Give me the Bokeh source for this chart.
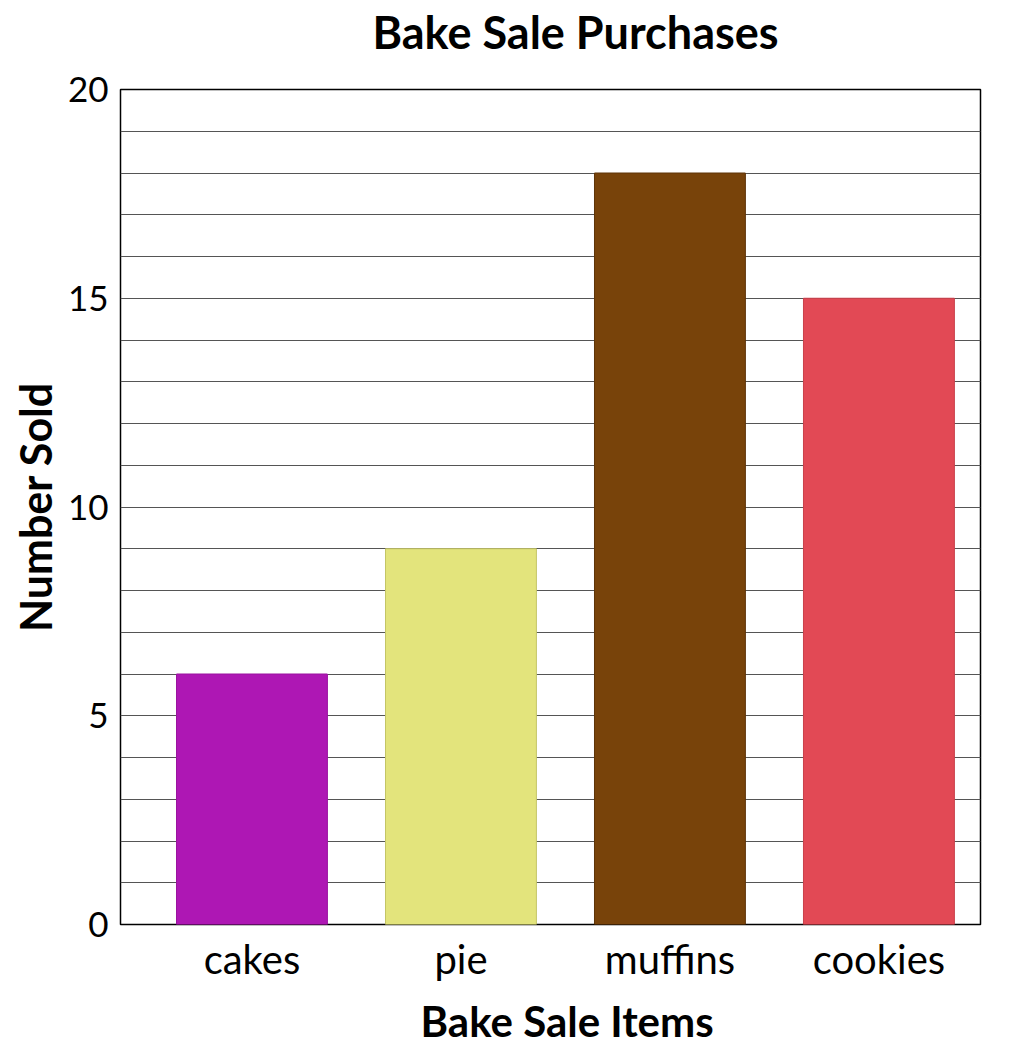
from bokeh.plotting import figure
from bokeh.models import Range1d, FixedTicker, SingleIntervalTicker, Grid, Title
from bokeh.embed import file_html
from bokeh.resources import INLINE

items = ["cakes", "pie", "muffins", "cookies"]
sold = [6, 9, 18, 15]
colors = ["#AE17B4", "#E3E47C", "#78430A", "#E24955"]
edges = ["#9A139F", "#C4C566", "#5E3408", "#C93F4A"]
y_ticks = [0, 5, 10, 15, 20]

positions = list(range(len(items)))

FONT = "Lato"

p = figure(x_range=Range1d(-0.629, 3.486), y_range=Range1d(0, 20),
           frame_width=860, frame_height=835, width=1015, height=1053,
           min_border_left=120, min_border_top=89, min_border_bottom=129, min_border_right=35,
           output_backend="svg", toolbar_location=None)

p.vbar(x=positions, top=sold, width=0.722, fill_color=colors, line_color=edges, line_width=1)

p.xgrid.visible = False
p.ygrid.visible = False
g = Grid(dimension=1, ticker=SingleIntervalTicker(interval=1), grid_line_color="#555555", grid_line_width=1)
p.add_layout(g)

p.outline_line_color = "black"
p.outline_line_width = 1.5
p.outline_line_alpha = 1

for ax in (p.xaxis[0], p.yaxis[0]):
    ax.axis_line_color = None
    ax.major_tick_line_color = None
    ax.minor_tick_line_color = None
    ax.major_label_text_font = FONT
    ax.major_label_text_color = "black"
    ax.axis_label_text_font = FONT
    ax.axis_label_text_font_style = "bold"
    ax.axis_label_text_font_size = "43px"
    ax.axis_label_text_color = "black"

p.xaxis.ticker = FixedTicker(ticks=positions)
p.xaxis.major_label_overrides = {i: name for i, name in zip(positions, items)}
p.xaxis.major_label_text_font_size = "40px"
p.xaxis.major_label_standoff = 4

p.yaxis.ticker = FixedTicker(ticks=y_ticks)
p.yaxis.major_label_text_font_size = "35px"
p.yaxis.major_label_standoff = 6
p.yaxis.axis_label = "Number Sold"
p.yaxis.axis_label_standoff = 4

p.title.visible = False

# blank spacer panel between the frame and the title
spacer = Title(text=" ", text_font=FONT, text_font_size="12px", standoff=12)
p.add_layout(spacer, "above")

title = Title(text="Bake Sale Purchases", align="left", offset=252,
              text_font=FONT, text_font_style="bold", text_font_size="45px",
              text_color="black", standoff=4)
p.add_layout(title, "above")

xlab = Title(text="Bake Sale Items", align="left", offset=300,
             text_font=FONT, text_font_style="bold", text_font_size="42px",
             text_color="black", standoff=16)
p.add_layout(xlab, "below")

open("out.html", "w").write(file_html(p, INLINE))
